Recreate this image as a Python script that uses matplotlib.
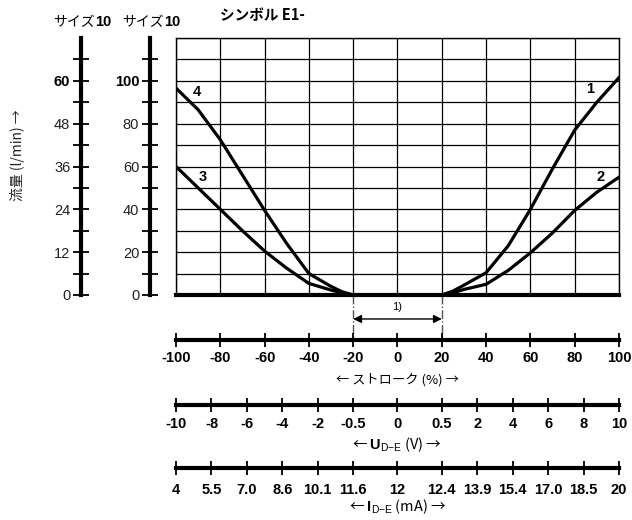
import matplotlib
matplotlib.use("Agg")
import matplotlib.pyplot as plt
from matplotlib.ticker import FixedLocator, MultipleLocator

plt.rcParams['font.family'] = ['Liberation Sans', 'Noto Sans CJK JP', 'DejaVu Sans']
plt.rcParams['mathtext.fontset'] = 'custom'
plt.rcParams['mathtext.rm'] = 'Liberation Sans'
plt.rcParams['mathtext.bf'] = 'Liberation Sans:bold'

# flow curves, stroke in %, flow on the 100-scale
stroke_right = [12, 20, 25, 30, 40, 50, 60, 70, 80, 90, 100]
curve1 = [0, 0, 1.8, 4.6, 10.4, 23, 40, 59, 77, 90, 101.5]
curve2 = [0, 0, 1.0, 2.6, 5.0, 11.5, 19.7, 29, 39.5, 48, 55]
stroke_left = [-100, -90, -80, -70, -60, -50, -40, -30, -25, -20, -12]
curve4 = [96.6, 86.5, 72.5, 56, 39.5, 24, 10, 4, 1.5, 0, 0]
curve3 = [60, 50, 40, 30, 20.5, 12.5, 5.4, 2.3, 1.0, 0, 0]

stroke_ticks = [-100, -80, -60, -40, -20, 0, 20, 40, 60, 80, 100]
volt_labels = ['-10', '-8', '-6', '-4', '-2', '-0.5', '0', '0.5', '2', '4', '6', '8', '10']
amp_labels = ['4', '5.5', '7.0', '8.6', '10.1', '11.6', '12', '12.4', '13.9', '15.4', '17.0', '18.5', '20']
scale_pos = [-100, -84, -68, -52, -36, -20, 0, 20, 36, 52, 68, 84, 100]

W, H = 632, 520
CJK = ['Noto Sans CJK JP', 'DejaVu Sans']


def fx(px):
    return px / W


def fy(py):
    return 1 - py / H


fig = plt.figure(figsize=(W / 100, H / 100), dpi=100)
fig.patch.set_facecolor('white')

ax = fig.add_axes([fx(176), fy(295), fx(619) - fx(176), fy(38) - fy(295)])
ax.set_xlim(-100, 100)
ax.set_ylim(0, 120)
ax.xaxis.set_major_locator(MultipleLocator(20))
ax.yaxis.set_major_locator(MultipleLocator(10))
ax.grid(True, color='black', lw=0.9)
ax.tick_params(length=0, labelbottom=False, labelleft=False)
for s in ['left', 'right', 'top']:
    ax.spines[s].set_linewidth(1.0)
ax.spines['bottom'].set_linewidth(3.0)

for xs, ys in [(stroke_right, curve1), (stroke_right, curve2),
               (stroke_left, curve4), (stroke_left, curve3)]:
    ax.plot(xs, ys, color='black', lw=2.3, solid_joinstyle='round', zorder=3)

for lbl, x, y in [('1', 87, 96), ('2', 91.5, 55), ('4', -90.5, 95), ('3', -88, 55)]:
    ax.text(x, y, lbl, fontsize=10.5, fontweight='bold', ha='center', va='center')

# dead band marker
for x in (-20, 20):
    ax.plot([x, x], [0, -20.5], color='#555555', lw=1.0, ls='-.', clip_on=False)
ax.annotate('', xy=(-20, -11.2), xytext=(20, -11.2),
            arrowprops=dict(arrowstyle='<|-|>', color='black', lw=1.0,
                            mutation_scale=12, shrinkA=0, shrinkB=0),
            annotation_clip=False)
ax.text(0, -5.8, '1)', fontsize=8, ha='center', va='center')


def flow_scale(px, top, major, minor):
    sa = fig.add_axes([fx(px), fy(295), 0.0005, fy(38) - fy(295)])
    sa.set_ylim(0, top)
    sa.set_xticks([])
    for s in ['right', 'top', 'bottom']:
        sa.spines[s].set_visible(False)
    sa.spines['left'].set_linewidth(3.0)
    sa.yaxis.set_major_locator(FixedLocator(major))
    sa.yaxis.set_minor_locator(FixedLocator(minor))
    sa.tick_params(which='both', direction='inout', length=11.5, width=1.3, pad=2, labelsize=10.5)
    sa.set_yticklabels([str(v) for v in major])
    for t in sa.get_yticklabels()[:-1]:
        t.set_color('#222222')
    sa.get_yticklabels()[-1].set_fontweight('bold')
    sa.patch.set_visible(False)
    return sa


flow_scale(81, 72, [0, 12, 24, 36, 48, 60], [6, 18, 30, 42, 54, 66])
flow_scale(150, 120, [0, 20, 40, 60, 80, 100], [10, 30, 50, 70, 90, 110])


def bottom_scale(py, pos, labels, pad):
    ba = fig.add_axes([fx(176), fy(py), fx(619) - fx(176), 0.0005])
    ba.set_xlim(-100, 100)
    ba.set_yticks([])
    for s in ['left', 'right', 'top']:
        ba.spines[s].set_visible(False)
    ba.spines['bottom'].set_linewidth(3.0)
    ba.tick_params(direction='inout', length=10, width=1.3, pad=pad)
    ba.set_xticks(pos)
    ba.set_xticklabels(labels, fontweight='bold', fontsize=10.5)
    ba.patch.set_visible(False)
    return ba


bottom_scale(340, stroke_ticks, [str(v) for v in stroke_ticks], 3)
bottom_scale(405, scale_pos, volt_labels, 4)
bottom_scale(468, scale_pos, amp_labels, 6)

cx = (fx(176) + fx(619)) / 2
fig.text(cx, fy(380), '← ストローク (%) →', ha='center', va='center', fontsize=9.5, family=CJK)
fig.text(cx, fy(445), r'← $\mathbf{U}_{\mathrm{D{-}E}}$ (V) →', ha='center', va='center',
         fontsize=10.5, family=CJK)
fig.text(cx, fy(507), r'← $\mathbf{I}_{\mathrm{D{-}E}}$ (mA) →', ha='center', va='center',
         fontsize=10.5, family=CJK)

fig.text(fx(220), fy(15), 'シンボル E1-', ha='left', va='center', fontsize=10.5, fontweight='bold',
         family=CJK)
for px in (95, 164):
    fig.text(fx(px), fy(22), 'サイズ', ha='right', va='center', fontsize=10, family=CJK)
    fig.text(fx(px), fy(22), '10', ha='left', va='center', fontsize=10.5, fontweight='bold')

fig.text(fx(18), fy(155), '流量 (l/min) →', rotation=90, ha='center', va='center', fontsize=10,
         color='#222222', family=CJK)

fig.savefig('out.png', dpi=100, facecolor='white')
